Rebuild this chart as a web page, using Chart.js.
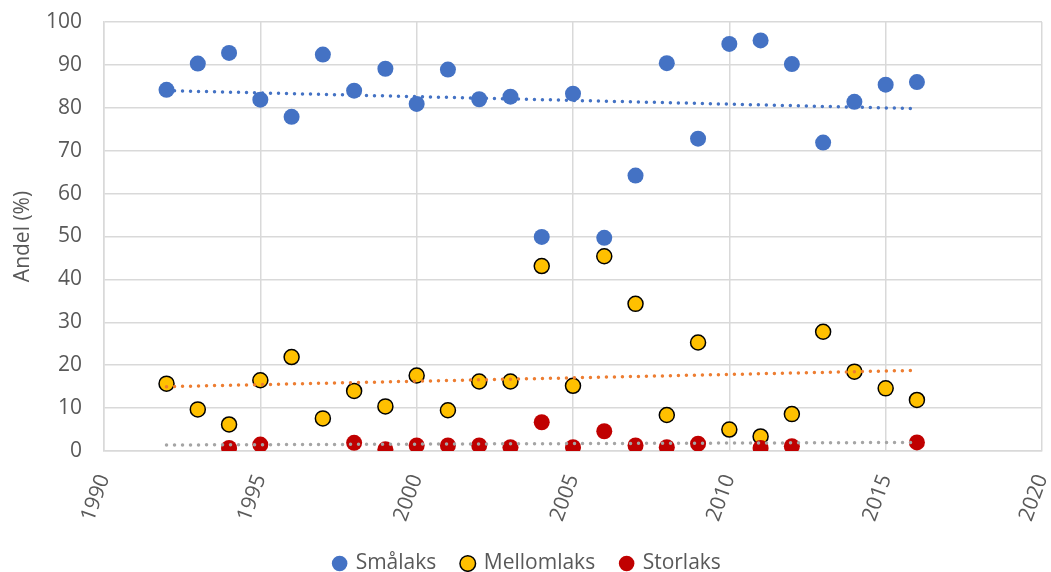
<!DOCTYPE html>
<html>
<head>
  <meta charset="UTF-8">
  <title>Andel smålaks, mellomlaks og storlaks</title>
  <script src="https://cdn.jsdelivr.net/npm/chart.js"></script>
  <style>
    body { margin: 0; background: #fff; }
    #wrap { width: 1051px; height: 572px; }
  </style>
</head>
<body>
  <div id="wrap"><canvas id="chart" width="1051" height="572"></canvas></div>
  <script>
    // data
    const aar = [1992, 1993, 1994, 1995, 1996, 1997, 1998, 1999, 2000, 2001, 2002, 2003, 2004,
                 2005, 2006, 2007, 2008, 2009, 2010, 2011, 2012, 2013, 2014, 2015, 2016];
    const smalaks = [84.2, 90.3, 92.8, 81.9, 77.9, 92.4, 84.0, 89.1, 80.9, 88.9, 82.0, 82.6, 49.9,
                     83.3, 49.7, 64.2, 90.4, 72.8, 94.9, 95.7, 90.2, 71.9, 81.4, 85.4, 86.0];
    const mellomlaks = [15.7, 9.7, 6.2, 16.5, 21.9, 7.6, 14.0, 10.4, 17.6, 9.5, 16.2, 16.2, 43.1,
                        15.2, 45.4, 34.3, 8.4, 25.3, 5.0, 3.4, 8.6, 27.8, 18.5, 14.6, 11.9];
    const storlaksAar = [1994, 1995, 1998, 1999, 2000, 2001, 2002, 2003, 2004, 2005, 2006, 2007,
                         2008, 2009, 2011, 2012, 2016];
    const storlaks = [0.7, 1.5, 1.9, 0.4, 1.3, 1.3, 1.3, 0.9, 6.7, 0.9, 4.6, 1.3,
                      0.9, 1.7, 0.7, 1.1, 2.0];
    // trendline end points (1992 and 2016)
    const trendAar = [1992, 2016];
    const trendSma = [84.0, 79.8];
    const trendMellom = [15.0, 18.8];
    const trendStor = [1.4, 2.0];

    const xy = (xs, ys) => xs.map((x, i) => ({ x: x, y: ys[i] }));
    const grey = '#595959';
    const font = { family: 'Open Sans, Liberation Sans, sans-serif', size: 21 };

    function trend(ys, color) {
      return {
        type: 'line', label: 'trend', data: xy(trendAar, ys), order: 0,
        borderColor: color, borderWidth: 3.5, borderDash: [0, 8], borderCapStyle: 'round',
        pointRadius: 0, fill: false
      };
    }

    new Chart(document.getElementById('chart'), {
      type: 'scatter',
      data: {
        datasets: [
          { label: 'Smålaks', data: xy(aar, smalaks), order: 3,
            backgroundColor: '#4472C4', borderColor: '#4472C4', borderWidth: 0, pointRadius: 8 },
          { label: 'Mellomlaks', data: xy(aar, mellomlaks), order: 2,
            backgroundColor: '#FFC000', borderColor: '#000', borderWidth: 1.5, pointRadius: 7.5 },
          { label: 'Storlaks', data: xy(storlaksAar, storlaks), order: 1,
            backgroundColor: '#C00000', borderColor: '#C00000', borderWidth: 0, pointRadius: 8 },
          trend(trendSma, '#4472C4'),
          trend(trendMellom, '#ED7D31'),
          trend(trendStor, '#A5A5A5')
        ]
      },
      options: {
        responsive: false,
        animation: false,
        layout: { padding: { left: 4, right: 0, top: 22, bottom: -12 } },
        plugins: {
          tooltip: { enabled: false },
          legend: {
            position: 'bottom',
            labels: {
              color: grey, font: font, usePointStyle: true, pointStyle: 'circle',
              boxWidth: 11, boxHeight: 11, padding: 26,
              filter: (item) => item.text !== 'trend',
              sort: (a, b) => a.datasetIndex - b.datasetIndex
            }
          }
        },
        scales: {
          x: {
            type: 'linear', min: 1990, max: 2020,
            afterFit: (s) => { s.paddingLeft = 0; s.paddingRight = 0; s.height = 76; },
            ticks: { stepSize: 5, color: grey, font: font, minRotation: 70, maxRotation: 70,
                     padding: 20, callback: (v) => String(v) },
            grid: { color: '#D9D9D9', lineWidth: 1.5, drawTicks: false },
            border: { color: '#D9D9D9', width: 1.5 }
          },
          y: {
            min: 0, max: 100,
            afterFit: (s) => { s.width = 100; s.paddingTop = 0; s.paddingBottom = 0; },
            ticks: { stepSize: 10, color: grey, font: font, padding: 22 },
            grid: { color: '#D9D9D9', lineWidth: 1.5, drawTicks: false },
            border: { color: '#D9D9D9', width: 1.5 },
            title: { display: true, text: 'Andel (%)', color: grey, font: font, padding: { top: 6 } }
          }
        }
      }
    });
  </script>
</body>
</html>
